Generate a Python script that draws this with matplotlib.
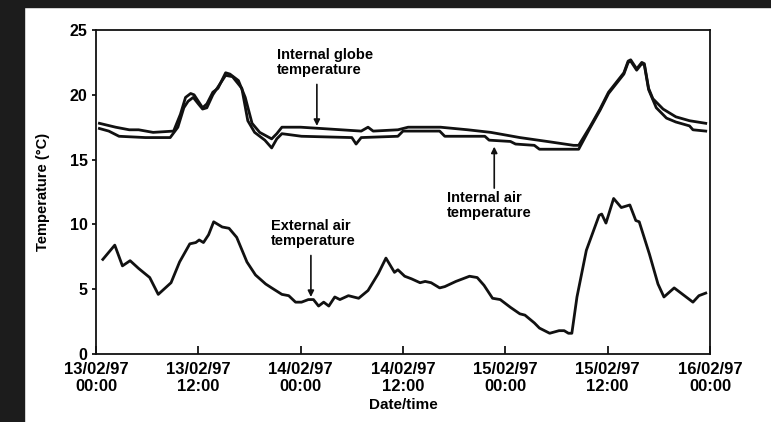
import matplotlib.pyplot as plt
from matplotlib.patches import Rectangle

plt.rcParams['font.family'] = ['Liberation Sans', 'DejaVu Sans']
plt.rcParams['font.weight'] = 'bold'

# hours after 13/02/97 00:00
ext_hours = [0.8, 2.2, 3.1, 4.0, 5.0, 6.3, 7.3, 8.3, 8.8, 9.8, 11.0, 11.7, 12.1, 12.6, 13.2,
             13.8, 14.8, 15.6, 16.5, 17.7, 18.7, 19.9, 20.6, 21.8, 22.6, 23.4, 24.1, 24.9, 25.5, 26.1,
             26.7, 27.3, 28.0, 28.6, 29.6, 30.8, 31.9, 33.1, 34.0, 35.0, 35.4, 36.2, 37.0, 38.0, 38.6,
             39.3, 40.3, 40.9, 42.2, 43.8, 44.7, 45.5, 46.5, 47.4, 48.6, 49.7, 50.3, 51.4, 52.0, 53.2,
             54.3, 54.9, 55.4, 55.8, 56.4, 57.5, 59.0, 59.3, 59.8, 60.7, 61.6, 62.6, 63.3, 63.7, 64.9,
             65.9, 66.6, 67.8, 69.0, 70.0, 70.7, 71.5]
ext_temp = [7.3, 8.4, 6.8, 7.2, 6.6, 5.9, 4.6, 5.2, 5.5, 7.1, 8.5, 8.6, 8.8, 8.6, 9.2,
            10.2, 9.8, 9.7, 9.0, 7.1, 6.1, 5.4, 5.1, 4.6, 4.5, 4.0, 4.0, 4.2, 4.2, 3.7,
            4.0, 3.7, 4.4, 4.2, 4.5, 4.3, 4.9, 6.2, 7.4, 6.3, 6.5, 6.0, 5.8, 5.5, 5.6,
            5.5, 5.1, 5.2, 5.6, 6.0, 5.9, 5.3, 4.3, 4.2, 3.6, 3.1, 3.0, 2.4, 2.0, 1.6,
            1.8, 1.8, 1.6, 1.6, 4.4, 8.0, 10.7, 10.8, 10.1, 12.0, 11.3, 11.5, 10.3, 10.2, 7.7,
            5.4, 4.4, 5.1, 4.5, 4.0, 4.5, 4.7]

globe_hours = [0.4, 2.3, 3.9, 5.0, 6.7, 9.1, 9.9, 10.5, 11.1, 11.5, 12.5, 13.0, 13.7, 14.3, 15.2,
               15.7, 16.7, 17.5, 18.3, 19.2, 20.6, 21.2, 21.8, 24.0, 26.4, 31.1, 31.9, 32.5, 35.4, 36.6,
               40.4, 43.6, 46.3, 49.7, 52.9, 56.0, 56.6, 57.9, 59.1, 60.1, 61.3, 61.9, 62.4, 62.7, 63.4,
               64.0, 64.3, 64.8, 65.3, 66.5, 68.0, 69.6, 71.5]
globe_temp = [17.8, 17.5, 17.3, 17.3, 17.1, 17.2, 18.5, 19.8, 20.1, 20.0, 19.0, 19.3, 20.2, 20.5, 21.7,
              21.6, 21.1, 19.8, 17.8, 17.1, 16.6, 17.0, 17.5, 17.5, 17.4, 17.2, 17.5, 17.2, 17.3, 17.5,
              17.5, 17.3, 17.1, 16.7, 16.4, 16.1, 16.1, 17.5, 18.9, 20.2, 21.2, 21.7, 22.6, 22.7, 22.0,
              22.5, 22.4, 20.5, 19.7, 18.9, 18.3, 18.0, 17.8]

air_hours = [0.4, 1.5, 2.7, 5.8, 8.7, 9.6, 10.3, 10.8, 11.4, 12.0, 12.5, 13.0, 13.7, 14.6, 15.2,
             16.0, 17.1, 17.8, 18.6, 19.8, 20.6, 21.2, 21.8, 24.1, 30.0, 30.5, 31.1, 35.4, 36.0, 40.3,
             40.9, 45.6, 46.1, 48.6, 49.2, 51.4, 52.0, 56.0, 56.6, 57.9, 59.1, 60.1, 61.3, 61.9, 62.4,
             62.7, 63.4, 64.0, 64.3, 64.8, 65.7, 66.9, 68.0, 69.6, 70.0, 71.5]
air_temp = [17.4, 17.2, 16.8, 16.7, 16.7, 17.5, 19.0, 19.5, 19.8, 19.3, 18.9, 19.0, 20.0, 20.9, 21.5,
            21.4, 20.5, 18.0, 17.1, 16.5, 15.9, 16.6, 17.0, 16.8, 16.7, 16.2, 16.7, 16.8, 17.2, 17.2,
            16.8, 16.8, 16.5, 16.4, 16.2, 16.1, 15.8, 15.8, 15.8, 17.4, 18.8, 20.1, 21.1, 21.6, 22.5,
            22.6, 21.9, 22.4, 22.3, 20.4, 19.0, 18.2, 17.9, 17.6, 17.3, 17.2]

tick_hours = [0, 12, 24, 36, 48, 60, 72]
tick_labels = ['13/02/97\n00:00', '13/02/97\n12:00', '14/02/97\n00:00', '14/02/97\n12:00',
               '15/02/97\n00:00', '15/02/97\n12:00', '16/02/97\n00:00']

fig = plt.figure(figsize=(7.71, 4.22), dpi=100)
# dark scan border on the left and top
fig.patches.append(Rectangle((0, 0), 24 / 771, 1, transform=fig.transFigure, color='#1c1c1c', zorder=0))
fig.patches.append(Rectangle((0, 1 - 7 / 422), 1, 7 / 422, transform=fig.transFigure, color='#1c1c1c', zorder=0))

ax = fig.add_axes([96 / 771, 1 - 354 / 422, (710 - 96) / 771, (354 - 30) / 422])

lw = 2.0
ax.plot(globe_hours, globe_temp, color='#111111', lw=lw)
ax.plot(air_hours, air_temp, color='#111111', lw=lw)
ax.plot(ext_hours, ext_temp, color='#111111', lw=lw)

ax.set_xlim(0, 71.7)
ax.set_ylim(0, 25)
ax.set_yticks([0, 5, 10, 15, 20, 25])
ax.set_xticks(tick_hours)
ax.set_xticklabels(tick_labels, fontsize=12, linespacing=1.15)
ax.tick_params(axis='x', direction='in', length=6, width=1.2, pad=6)
ax.tick_params(axis='y', direction='out', length=3, width=1.2, pad=3, labelsize=11.5)
for s in ax.spines.values():
    s.set_linewidth(1.3)
    s.set_color('#111111')

ax.set_xlabel('Date/time', fontsize=11, fontweight='bold', labelpad=3)
ax.set_ylabel('Temperature (°C)', fontsize=10.5, fontweight='bold', labelpad=14)

txt = dict(fontsize=10.5, fontweight='bold', linespacing=1.1, va='top', ha='left')
arr = dict(arrowstyle='-|>', lw=1.2, color='#111111', mutation_scale=9, shrinkA=0, shrinkB=0)

ax.text(21.2, 23.6, 'Internal globe\ntemperature', **txt)
ax.annotate('', xy=(25.9, 17.6), xytext=(25.9, 20.8), arrowprops=arr)

ax.text(41.2, 12.6, 'Internal air\ntemperature', **txt)
ax.annotate('', xy=(46.7, 16.0), xytext=(46.7, 12.8), arrowprops=arr)

ax.text(20.5, 10.4, 'External air\ntemperature', **txt)
ax.annotate('', xy=(25.2, 4.4), xytext=(25.2, 7.6), arrowprops=arr)

fig.savefig('out.png', dpi=100)
